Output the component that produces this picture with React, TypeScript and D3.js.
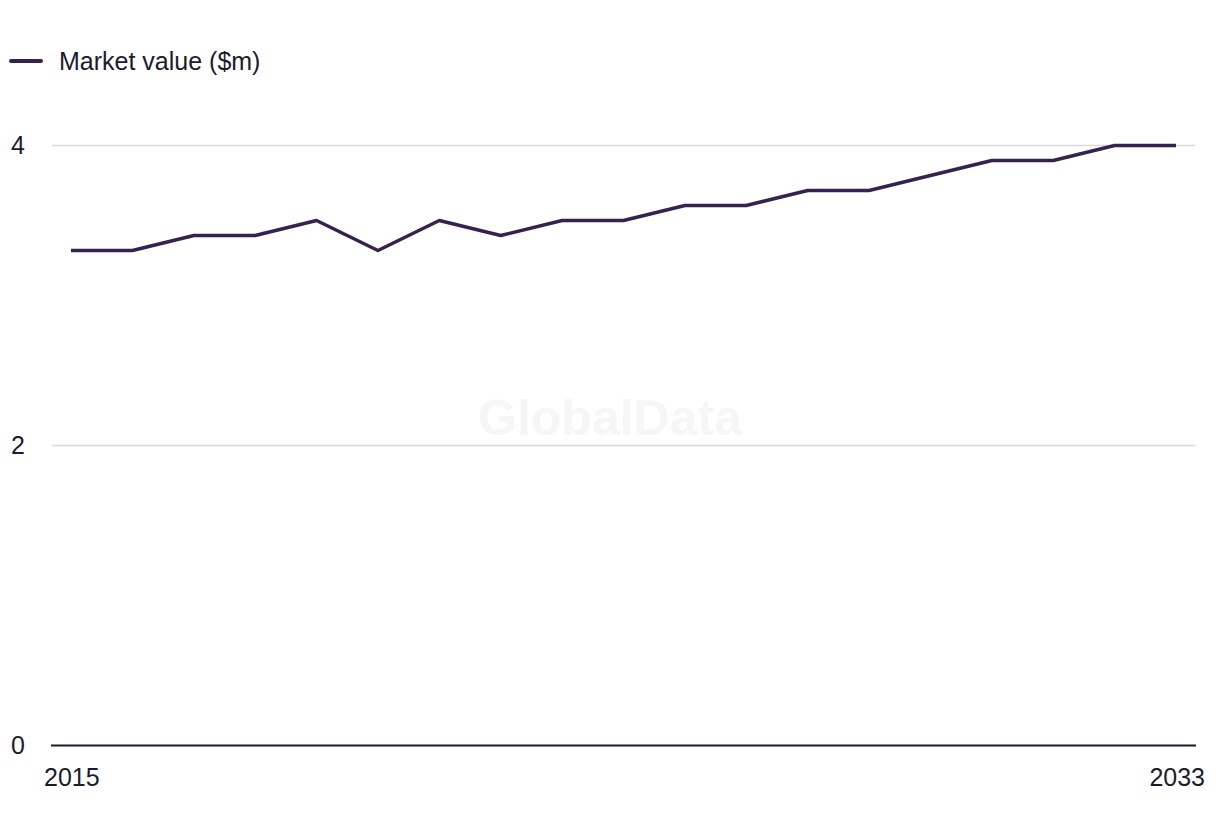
import React from "react";
import * as d3 from "d3";

const years = [2015, 2016, 2017, 2018, 2019, 2020, 2021, 2022, 2023, 2024, 2025, 2026, 2027, 2028, 2029, 2030, 2031, 2032, 2033];
const marketValue = [3.3, 3.3, 3.4, 3.4, 3.5, 3.3, 3.5, 3.4, 3.5, 3.5, 3.6, 3.6, 3.7, 3.7, 3.8, 3.9, 3.9, 4.0, 4.0];
const yTicks = [0, 2, 4];
const xTickLabels = [2015, 2033];
const seriesName = "Market value ($m)";

export default function App() {
  const W = 1220, H = 836;
  const x = d3.scaleLinear().domain([2015, 2033]).range([71, 1176]);
  const y = d3.scaleLinear().domain([0, 4]).range([745.5, 145.5]);
  const line = d3.line<number>().x((_, i) => x(years[i])).y((d) => y(d));
  const font = "'Liberation Sans', Arial, sans-serif";
  const textColor = "#1c1b2e";
  const lineColor = "#35234f";
  return (
    <svg width={W} height={H} style={{ position: "absolute", left: 0, top: 0 }} fontFamily={font}>
      <rect width={W} height={H} fill="#fff" />
      <text x={610} y={435} textAnchor="middle" fontSize={50} fontWeight={700} fill="#f6f6f6">GlobalData</text>
      {yTicks.map((t) => (
        <g key={t}>
          {t !== 0 && <line x1={52} x2={1195} y1={y(t)} y2={y(t)} stroke="#d9d9d9" strokeWidth={1.5} />}
          <text x={11} y={y(t)} dy="0.35em" fontSize={25} fill={textColor}>{t}</text>
        </g>
      ))}
      <line x1={51} x2={1196} y1={y(0)} y2={y(0)} stroke={textColor} strokeWidth={2} />
      {xTickLabels.map((t, i) => (
        <text key={t} x={i === 0 ? 44 : 1205} y={786} textAnchor={i === 0 ? "start" : "end"} fontSize={25} fill={textColor}>{t}</text>
      ))}
      <path d={line(marketValue) || ""} fill="none" stroke={lineColor} strokeWidth={3.5} strokeLinejoin="round" />
      <line x1={11} x2={41} y1={61} y2={61} stroke={lineColor} strokeWidth={4} strokeLinecap="round" />
      <text x={59} y={70} fontSize={25} fill={textColor}>{seriesName}</text>
    </svg>
  );
}
